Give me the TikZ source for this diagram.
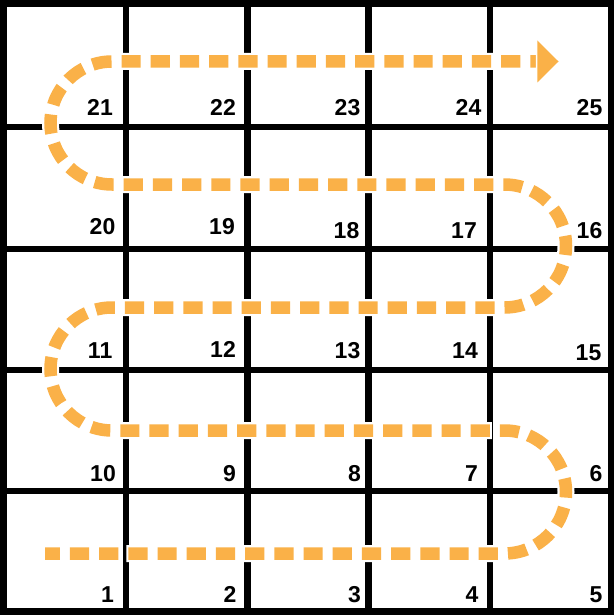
\documentclass[tikz,border=0pt]{standalone}
\usepackage{fontspec}
\setmainfont{Liberation Sans}
\definecolor{pathorange}{RGB}{250,177,72}
\begin{document}
\begin{tikzpicture}[x=1pt,y=1pt,
  gridline/.style={line width=6.5pt, black},
  num/.style={anchor=base east, inner sep=0pt, font=\fontsize{23}{23}\selectfont\bfseries},
  pathunder/.style={white, line width=17pt, dash pattern=on 23.2pt off 6pt, dash phase=6.3pt},
  pathover/.style={pathorange, line width=12.5pt, dash pattern=on 19.2pt off 10pt, dash phase=4.3pt}]
\useasboundingbox (0,0) rectangle (614,-615);
% grid
\draw[gridline, line join=miter] (3.5,-3.5) rectangle (611,-611.5);
\foreach \x in {126,247.5,368.5,490} \draw[gridline] (\x,-3.5) -- (\x,-611.5);
\foreach \y in {127,249,370,491} \draw[gridline] (3.5,-\y) -- (611,-\y);
% numbers
\node[num] (n21) at (113,-115.5) {21};
\node[num] (n22) at (236,-115.5) {22};
\node[num] (n23) at (360.5,-115.5) {23};
\node[num] (n24) at (481.5,-115.5) {24};
\node[num] (n25) at (602.5,-115.5) {25};
\node[num] (n20) at (115.5,-234.5) {20};
\node[num] (n19) at (235,-234.5) {19};
\node[num] (n18) at (359.5,-238.5) {18};
\node[num] (n17) at (477,-238.5) {17};
\node[num] (n16) at (602.5,-238.5) {16};
\node[num] (n11) at (112.5,-358) {11};
\node[num] (n12) at (236,-357.5) {12};
\node[num] (n13) at (360.5,-358.5) {13};
\node[num] (n14) at (478,-358.5) {14};
\node[num] (n15) at (601.5,-360.5) {15};
\node[num] (n10) at (116,-481) {10};
\node[num] (n9) at (236,-481) {9};
\node[num] (n8) at (361,-481) {8};
\node[num] (n7) at (478,-481) {7};
\node[num] (n6) at (602.5,-481) {6};
\node[num] (n1) at (114,-602.5) {1};
\node[num] (n2) at (236.5,-602.5) {2};
\node[num] (n3) at (361,-602.5) {3};
\node[num] (n4) at (478.5,-602.5) {4};
\node[num] (n5) at (602.5,-602.5) {5};
% serpentine path
\coordinate (start) at (45,-553.5);
\coordinate (r1) at (504.5,-553.5);
\coordinate (l2) at (112,-430.5);
\coordinate (r3) at (504.5,-307.5);
\coordinate (l4) at (112,-184.5);
\coordinate (tipbase) at (537.3,-61.5);
\coordinate (tip) at (558.5,-61.5);
\foreach \st in {pathunder,pathover}{
\draw[\st] (start) -- (r1) arc[start angle=-90,end angle=90,radius=61.5]
  -- (l2) arc[start angle=270,end angle=90,radius=61.5]
  -- (r3) arc[start angle=-90,end angle=90,radius=61.5]
  -- (l4) arc[start angle=270,end angle=90,radius=61.5]
  -- (tipbase);
}
\draw[white, line width=3pt, line join=miter, fill=pathorange] (tipbase) -- ++(0,21) -- (tip) -- ++(-21.2,-21) -- cycle;
\fill[pathorange] (tipbase) -- ++(0,21) -- (tip) -- ++(-21.2,-21) -- cycle;
\end{tikzpicture}
\end{document}
